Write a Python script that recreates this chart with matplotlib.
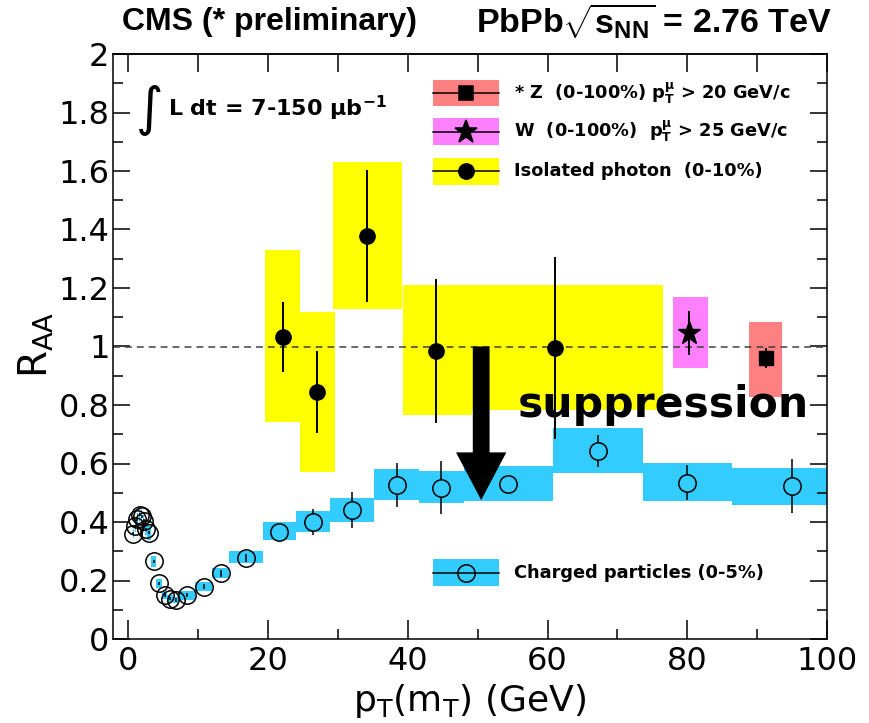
import numpy as np
import matplotlib
matplotlib.use("Agg")
import matplotlib.pyplot as plt
from matplotlib.ticker import MultipleLocator, FuncFormatter, NullLocator

plt.rcParams['font.family'] = ['DejaVu Sans']
plt.rcParams['mathtext.fontset'] = 'dejavusans'
plt.rcParams['mathtext.default'] = 'regular'
# "custom" math family is only used for the header line
plt.rcParams['mathtext.rm'] = 'Liberation Sans:bold'
plt.rcParams['mathtext.bf'] = 'Liberation Sans:bold'
plt.rcParams['mathtext.it'] = 'Liberation Sans:bold'

# ---------------------------------------------------------------------
# Data
# ---------------------------------------------------------------------

# charged particles (0-5%), low pT part (narrow bins)
ch_low_pt = [0.7, 1.0, 1.3, 1.6, 1.9, 2.2, 2.5, 3.0, 3.6, 4.4, 5.2, 6.0, 6.8, 8.4, 10.8, 13.2, 16.8]
ch_low_lo = [0.6, 0.9, 1.2, 1.5, 1.8, 2.1, 2.4, 2.7, 3.2, 4.0, 4.8, 5.6, 6.4, 7.2, 9.6, 12.0, 14.4]
ch_low_hi = [0.8, 1.1, 1.4, 1.7, 2.0, 2.3, 2.6, 3.2, 4.0, 4.8, 5.6, 6.4, 7.2, 9.6, 12.0, 14.4, 19.2]
ch_low_raa = [0.360, 0.385, 0.410, 0.425, 0.420, 0.405, 0.375, 0.363, 0.265, 0.190, 0.150,
              0.138, 0.133, 0.150, 0.179, 0.225, 0.277]
ch_low_stat = [0.005, 0.005, 0.005, 0.005, 0.005, 0.005, 0.005, 0.005, 0.006, 0.006, 0.006,
               0.006, 0.006, 0.007, 0.009, 0.012, 0.015]
ch_low_sys_lo = [0.345, 0.365, 0.390, 0.400, 0.395, 0.385, 0.355, 0.340, 0.245, 0.175, 0.138,
                 0.127, 0.122, 0.135, 0.163, 0.207, 0.259]
ch_low_sys_hi = [0.375, 0.405, 0.430, 0.450, 0.445, 0.425, 0.395, 0.385, 0.285, 0.205, 0.162,
                 0.149, 0.144, 0.165, 0.195, 0.243, 0.300]

# charged particles (0-5%), high pT part
ch_high_pt = [21.6, 26.4, 32.0, 38.4, 44.8, 54.4, 67.2, 80.0, 95.0]
ch_high_lo = [19.2, 24.0, 28.8, 35.2, 41.6, 48.0, 60.8, 73.6, 86.4]
ch_high_hi = [24.0, 28.8, 35.2, 41.6, 48.0, 60.8, 73.6, 86.4, 103.6]
ch_high_raa = [0.366, 0.400, 0.441, 0.526, 0.517, 0.530, 0.644, 0.534, 0.523]
ch_high_stat = [0.012, 0.044, 0.060, 0.076, 0.090, 0.025, 0.055, 0.060, 0.093]
ch_high_sys_lo = [0.338, 0.367, 0.401, 0.475, 0.464, 0.472, 0.566, 0.472, 0.458]
ch_high_sys_hi = [0.399, 0.438, 0.481, 0.581, 0.575, 0.592, 0.720, 0.600, 0.583]

# isolated photons (0-10%)
ph_pt = [22.2, 27.0, 34.1, 44.0, 61.1]
ph_lo = [19.6, 24.6, 29.3, 39.3, 49.2]
ph_hi = [24.6, 29.6, 39.2, 49.2, 76.5]
ph_raa = [1.032, 0.844, 1.378, 0.985, 0.995]
ph_stat = [0.120, 0.140, 0.225, 0.245, 0.310]
ph_sys_lo = [0.742, 0.571, 1.128, 0.766, 0.783]
ph_sys_hi = [1.330, 1.118, 1.631, 1.210, 1.210]

# W (0-100%), muon pT > 25 GeV/c
w_pt = [80.3]
w_lo = [78.0]
w_hi = [82.9]
w_raa = [1.046]
w_stat = [0.075]
w_sys_lo = [0.926]
w_sys_hi = [1.169]

# Z (0-100%), muon pT > 20 GeV/c
z_pt = [91.3]
z_lo = [88.8]
z_hi = [93.5]
z_raa = [0.961]
z_stat = [0.035]
z_sys_lo = [0.827]
z_sys_hi = [1.084]

unity = 1.0

# suppression arrow and its label
arrow_x = 50.5
arrow_top = 1.0
arrow_tip = 0.475
label_x = 55.7
label_y = 0.759

# colours
c_photon = '#FFFF00'
c_w = '#FF80FF'
c_z = '#FF8080'
c_charged = '#33CCFF'


def draw_boxes(ax, lo, hi, sys_lo, sys_hi, color):
    lo, hi = np.asarray(lo), np.asarray(hi)
    sys_lo, sys_hi = np.asarray(sys_lo), np.asarray(sys_hi)
    ax.bar(lo, sys_hi - sys_lo, width=hi - lo, bottom=sys_lo, align='edge',
           color=color, edgecolor='none', linewidth=0, zorder=1)


fig = plt.figure(figsize=(8.7, 7.23), dpi=100)
ax = fig.add_axes([113 / 870, 1 - 639 / 723, 714 / 870, 585 / 723])

# systematic boxes
draw_boxes(ax, ph_lo, ph_hi, ph_sys_lo, ph_sys_hi, c_photon)
draw_boxes(ax, w_lo, w_hi, w_sys_lo, w_sys_hi, c_w)
draw_boxes(ax, z_lo, z_hi, z_sys_lo, z_sys_hi, c_z)
draw_boxes(ax, ch_low_lo, ch_low_hi, ch_low_sys_lo, ch_low_sys_hi, c_charged)
draw_boxes(ax, ch_high_lo, ch_high_hi, ch_high_sys_lo, ch_high_sys_hi, c_charged)

ax.axhline(unity, color='#404040', lw=1.1, ls=(0, (4.5, 3.3)), zorder=2)

# points with statistical errors
ax.errorbar(ch_low_pt, ch_low_raa, yerr=ch_low_stat, fmt='o', ms=12.5, mfc='none',
            mec='black', mew=1.1, ecolor='black', elinewidth=1.1, capsize=0, zorder=4)
ax.errorbar(ch_high_pt, ch_high_raa, yerr=ch_high_stat, fmt='o', ms=12.5, mfc=c_charged,
            mec='black', mew=1.1, ecolor='black', elinewidth=1.1, capsize=0, zorder=4)
ax.errorbar(ph_pt, ph_raa, yerr=ph_stat, fmt='o', ms=11, mfc='black', mec='black',
            ecolor='black', elinewidth=1.4, capsize=0, zorder=4)
ax.errorbar(w_pt, w_raa, yerr=w_stat, fmt='*', ms=17, mfc='black', mec='black',
            ecolor='black', elinewidth=1.4, capsize=0, zorder=4)
ax.errorbar(z_pt, z_raa, yerr=z_stat, fmt='s', ms=10, mfc='black', mec='black',
            ecolor='black', elinewidth=1.4, capsize=0, zorder=4)

ax.arrow(arrow_x, arrow_top, 0, arrow_tip - arrow_top, width=2.4, head_width=7.2,
         head_length=0.163, length_includes_head=True, fc='black', ec='none', zorder=5)
ax.text(label_x, label_y, 'suppression', fontsize=30.6, fontweight='bold',
        ha='left', va='baseline', zorder=6)

# legend, drawn by hand in axes fraction
leg_x0, leg_x1 = 0.4486, 0.5406
leg_text_x = 0.562
leg_h = 0.0453
leg_rows = [
    (0.9333, c_z, 's', 10, 'black',
     r'* Z  (0-100%) $\mathbf{p}_{\mathbf{T}}^{\mu}$ > 20 GeV/c'),
    (0.8672, c_w, '*', 17, 'black',
     r'W  (0-100%)  $\mathbf{p}_{\mathbf{T}}^{\mu}$ > 25 GeV/c'),
    (0.7995, c_photon, 'o', 11, 'black', 'Isolated photon  (0-10%)'),
    (0.1133, c_charged, 'o', 12.5, 'none', 'Charged particles (0-5%)'),
]
for yc, color, marker, ms, mfc, label in leg_rows:
    ax.add_patch(plt.Rectangle((leg_x0, yc - leg_h / 2), leg_x1 - leg_x0, leg_h,
                               transform=ax.transAxes, facecolor=color, edgecolor='none',
                               zorder=6))
    ax.plot([leg_x0, leg_x1], [yc, yc], transform=ax.transAxes, color='black', lw=1.1,
            zorder=7)
    ax.plot([(leg_x0 + leg_x1) / 2], [yc], transform=ax.transAxes, marker=marker, ms=ms,
            mfc=mfc, mec='black', mew=1.1, ls='none', zorder=8)
    ax.text(leg_text_x, yc, label, transform=ax.transAxes, fontsize=12.8,
            fontweight='bold', ha='left', va='center', zorder=8)

# luminosity
ax.text(0.052, 0.904, '\u222b', transform=ax.transAxes, fontsize=38, ha='center',
        va='center')
ax.text(0.077, 0.907, r'L dt = 7-150 $\mu$b$^{\mathbf{-1}}$', transform=ax.transAxes,
        fontsize=16, fontweight='bold', ha='left', va='center')

# header
fig.text(122 / 870, 0.9696, 'CMS (* preliminary)', fontsize=23, fontweight='bold',
         family='Liberation Sans', ha='left', va='center')
fig.text(476 / 870, 0.9696, r'PbPb$\sqrt{\mathbf{s}_{\mathbf{NN}}}$ = 2.76 TeV',
         fontsize=24.5, fontweight='bold', family='Liberation Sans', math_fontfamily='custom',
         ha='left', va='center')

# axes
ax.set_xlim(-2.2, 100)
ax.set_ylim(0, 2)
ax.xaxis.set_major_locator(MultipleLocator(20))
ax.xaxis.set_minor_locator(MultipleLocator(10))
ax.yaxis.set_major_locator(MultipleLocator(0.2))
ax.yaxis.set_minor_locator(MultipleLocator(0.1))
ax.yaxis.set_major_formatter(FuncFormatter(lambda v, p: f'{v:g}'))
ax.tick_params(which='both', direction='in', top=False, right=True, width=1.1,
               labelsize=23, colors='black')
ax.tick_params(axis='x', which='major', length=14, pad=5)
ax.tick_params(axis='x', which='minor', length=7)
ax.tick_params(axis='y', which='major', length=12, pad=2.5)
ax.tick_params(axis='y', which='minor', length=7)
for sp in ax.spines.values():
    sp.set_linewidth(1.1)

top = ax.secondary_xaxis('top')
top.set_xticks(list(range(0, 101, 10)))
top.xaxis.set_minor_locator(NullLocator())
top.tick_params(direction='in', length=13, width=1.1, labeltop=False)
top.spines['top'].set_linewidth(1.1)

ax.set_xlabel(r'p$_{\mathrm{T}}$(m$_{\mathrm{T}}$) (GeV)', fontsize=26)
ax.xaxis.set_label_coords(0.5, -0.0735)
ax.set_ylabel(r'R$_{\mathrm{AA}}$', fontsize=28)
ax.yaxis.set_label_coords(-0.08, 0.5026)

fig.savefig('out.png', dpi=100)
